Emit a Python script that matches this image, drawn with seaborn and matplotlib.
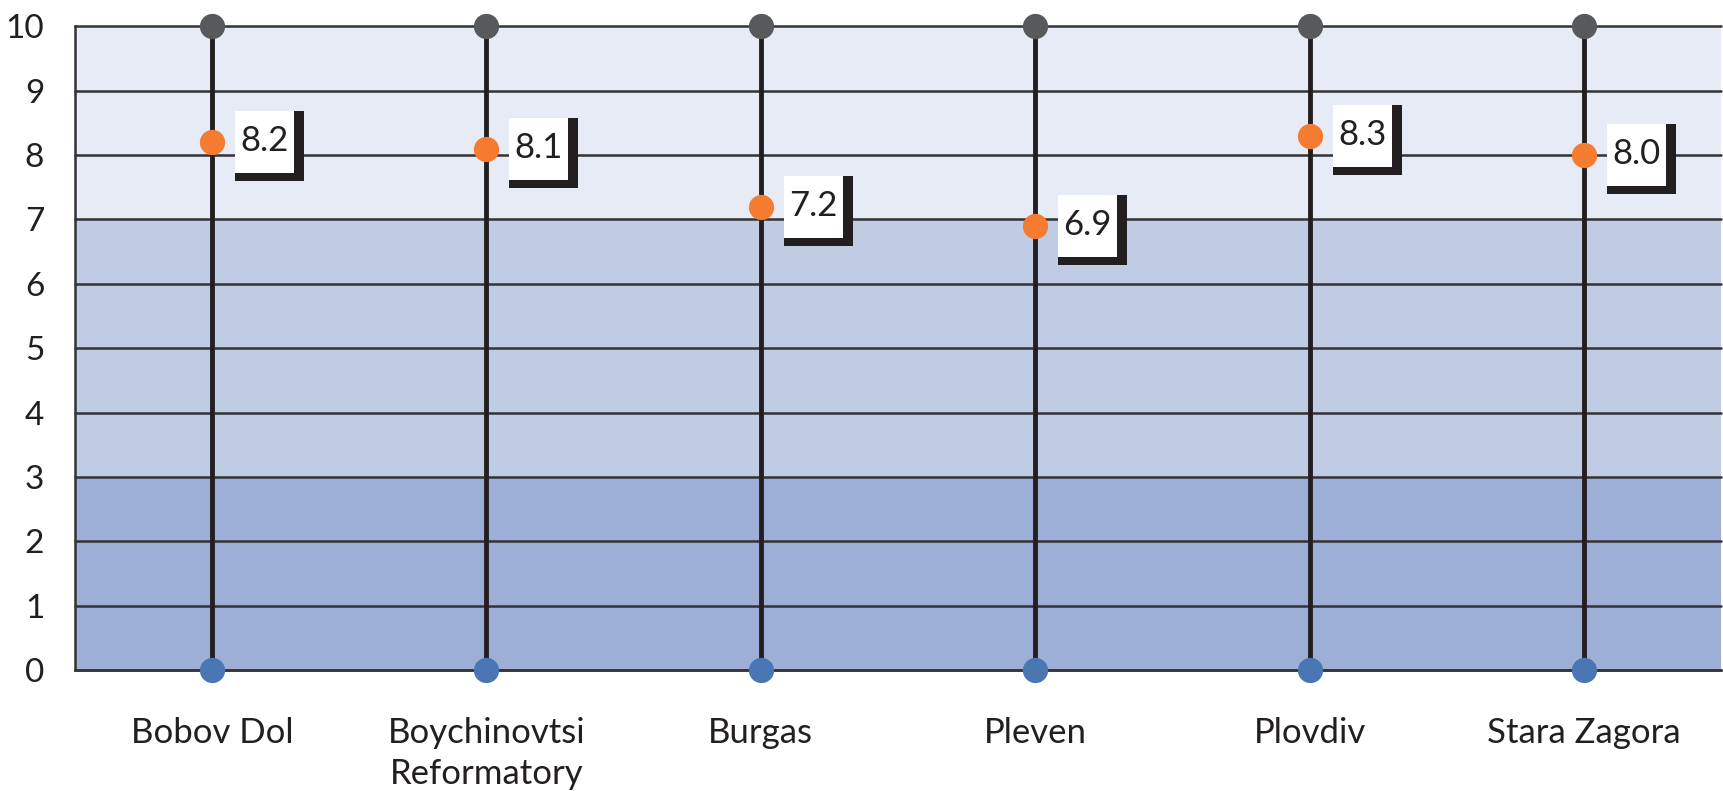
import numpy as np
import pandas as pd
import matplotlib
matplotlib.use("Agg")
import matplotlib.pyplot as plt
import matplotlib.transforms as mtransforms
from matplotlib.patches import Rectangle
import seaborn as sns

categories = ["Bobov Dol", "Boychinovtsi\nReformatory", "Burgas", "Pleven", "Plovdiv", "Stara Zagora"]
scores = [8.2, 8.1, 7.2, 6.9, 8.3, 8.0]
score_labels = ["8.2", "8.1", "7.2", "6.9", "8.3", "8.0"]
scale_min = 0
scale_max = 10
band_edges = [0, 3, 7, 10]
band_colors = ["#9DAFD6", "#C0CCE4", "#E6EBF6"]
y_ticks = list(range(0, 11))

sns.set_theme(style="white")
plt.rcParams["font.family"] = ["Lato", "DejaVu Sans"]

df = pd.DataFrame({"site": categories, "score": scores})
pos = np.arange(len(categories))

fig = plt.figure(figsize=(17.23, 7.91), dpi=100)
ax = fig.add_axes([0.0434, 0.153, 0.9556, 0.8136])

for lo, hi, c in zip(band_edges[:-1], band_edges[1:], band_colors):
    ax.axhspan(lo, hi, color=c, zorder=0, lw=0)
for t in y_ticks:
    ax.axhline(t, color="#333333", lw=1.8, zorder=1, clip_on=False)

ax.vlines(pos, scale_min, scale_max, color="#231F20", lw=3.5, zorder=2)
ax.scatter(pos, [scale_max] * len(pos), s=330, color="#58595B", zorder=3, lw=0, clip_on=False)
ax.scatter(pos, [scale_min] * len(pos), s=330, color="#4A77B4", zorder=3, lw=0, clip_on=False)
sns.scatterplot(data=df, x=pos, y="score", s=330, color="#F47B30", linewidth=0, zorder=4, ax=ax)

for x, v, lab in zip(pos, scores, score_labels):
    tr = fig.dpi_scale_trans + mtransforms.ScaledTranslation(x, v, ax.transData)
    ax.add_patch(Rectangle((0.23, -0.39), 0.69, 0.70, transform=tr, fc="#231F20", ec="none", zorder=5))
    ax.add_patch(Rectangle((0.23, -0.31), 0.59, 0.62, transform=tr, fc="white", ec="none", zorder=6))
    ax.text(0.525, 0.01, lab, transform=tr, ha="center", va="center", fontsize=25,
            color="#231F20", zorder=7)

ax.set_xlim(-0.5, len(categories) - 0.5)
ax.set_ylim(scale_min, scale_max)
ax.set_xticks(pos)
ax.set_xticklabels(categories, linespacing=1.35)
ax.set_yticks(y_ticks)
ax.tick_params(axis="both", length=0, labelcolor="#231F20")
ax.tick_params(axis="y", pad=22, labelsize=24)
ax.tick_params(axis="x", pad=34, labelsize=25)
ax.set_xlabel("")
ax.set_ylabel("")
for s in ["top", "right"]:
    ax.spines[s].set_visible(False)
for s in ["left", "bottom"]:
    ax.spines[s].set_color("#333333")
    ax.spines[s].set_linewidth(1.8)

fig.savefig("out.png", dpi=100)
